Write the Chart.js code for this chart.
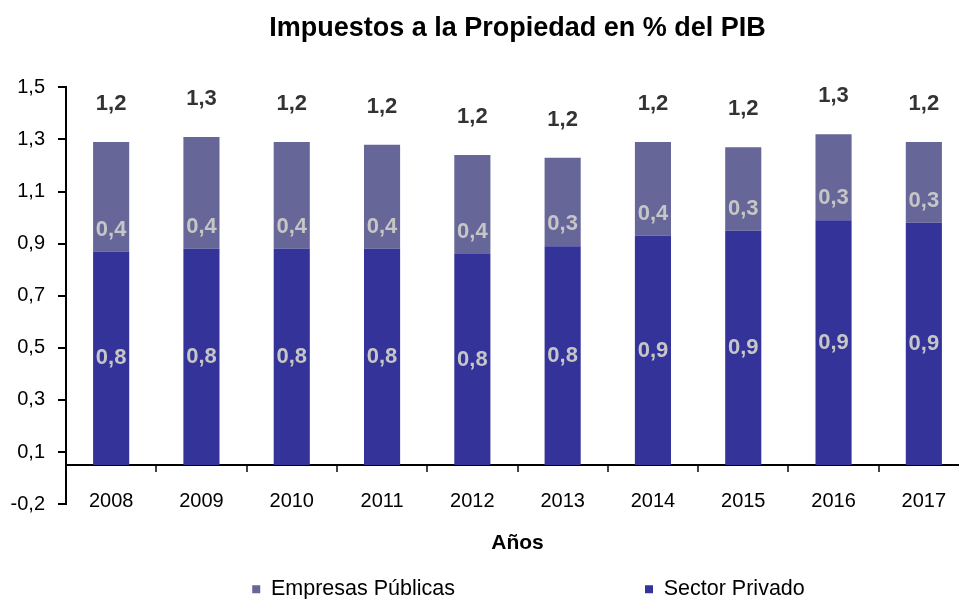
<!DOCTYPE html>
<html lang="es">
<head>
<meta charset="utf-8">
<title>Impuestos a la Propiedad en % del PIB</title>
<script src="https://cdn.jsdelivr.net/npm/chart.js@4.4.0/dist/chart.umd.min.js"></script>
<style>
  html, body { margin: 0; padding: 0; background: #fff; overflow: hidden; }
</style>
</head>
<body>
<!-- the canvas is a bit bigger than the window: the Excel original is cropped at the right and bottom -->
<canvas id="chartPropiedad" width="1057" height="610"></canvas>
<script>
const years = ['2008', '2009', '2010', '2011', '2012', '2013', '2014', '2015', '2016', '2017'];
const sectorPrivado = [0.82, 0.83, 0.83, 0.83, 0.81, 0.84, 0.88, 0.90, 0.94, 0.93];
const empresasPublicas = [0.42, 0.43, 0.41, 0.40, 0.38, 0.34, 0.36, 0.32, 0.33, 0.31];

// y axis of the original starts at -0.15 with a 0.2 step, labels rounded to one decimal
const tickValues = [-0.15, 0.05, 0.25, 0.45, 0.65, 0.85, 1.05, 1.25, 1.45];
const tickLabels = ['-0,2', '0,1', '0,3', '0,5', '0,7', '0,9', '1,1', '1,3', '1,5'];

const legendGap = 190;
const fmt = v => v.toFixed(1).replace('.', ',');

Chart.defaults.font.family = "'Liberation Sans', Arial, sans-serif";

const barLabels = {
    id: 'barLabels',
    afterDatasetsDraw(chart) {
        const { ctx } = chart;
        const priv = chart.getDatasetMeta(0).data;
        const pub = chart.getDatasetMeta(1).data;
        ctx.save();
        ctx.textAlign = 'center';
        ctx.textBaseline = 'middle';
        ctx.font = "bold 22px 'Liberation Sans', Arial, sans-serif";
        priv.forEach((bar, i) => {
            ctx.fillStyle = '#c6c6c6';
            ctx.fillText(fmt(sectorPrivado[i]), bar.x, (bar.y + bar.base) / 2);
            ctx.fillText(fmt(empresasPublicas[i]), pub[i].x, pub[i].base - 22);
            ctx.fillStyle = '#333333';
            ctx.fillText(fmt(sectorPrivado[i] + empresasPublicas[i]), pub[i].x, pub[i].y - 38);
        });
        ctx.restore();
    }
};

const chrt = document.getElementById('chartPropiedad');
new Chart(chrt, {
    type: 'bar',
    data: {
        labels: years,
        datasets: [
            {
                label: 'Sector Privado',
                data: sectorPrivado,
                backgroundColor: '#333399',
                borderWidth: 0
            },
            {
                label: 'Empresas Públicas',
                data: empresasPublicas,
                backgroundColor: '#666699',
                borderWidth: 0
            }
        ]
    },
    options: {
        responsive: false,
        animation: false,
        categoryPercentage: 1,
        barPercentage: 0.4,
        layout: { padding: 0 },
        scales: {
            x: {
                stacked: true,
                position: { y: 0 },   // axis crosses at zero, labels stay low like in Excel
                grid: {
                    drawOnChartArea: false,
                    tickLength: 6,
                    lineWidth: 2,
                    color: '#444'
                },
                border: { color: '#000', width: 2 },
                ticks: { color: '#000', padding: 18, font: { size: 20 } },
                title: {
                    display: true,
                    text: 'Años',
                    color: '#000',
                    font: { size: 21, weight: 'bold' },
                    padding: { top: 0, bottom: 0 }
                }
            },
            y: {
                stacked: true,
                min: -0.15,
                max: 1.45,
                afterBuildTicks: s => {
                    s.ticks = tickValues.map(v => ({ value: v }));
                },
                afterFit: s => { s.width = 66; },
                border: { color: '#000', width: 2 },
                grid: {
                    drawOnChartArea: false,
                    lineWidth: 2,
                    tickLength: 8,
                    color: '#000'
                },
                ticks: {
                    color: '#000',
                    padding: 13,
                    autoSkip: false,
                    font: { size: 20 },
                    callback: (v, i) => tickLabels[i]
                }
            },
            // empty axis on the right, only to push the plot edge past the window
            yPad: {
                type: 'linear',
                position: 'right',
                grid: { display: false },
                border: { display: false },
                ticks: { display: false },
                afterFit: s => { s.width = 88; }
            }
        },
        plugins: {
            title: {
                display: true,
                text: 'Impuestos a la Propiedad en % del PIB',
                fullSize: false,
                color: '#000',
                font: { size: 27, weight: 'bold' },
                padding: { top: 12, bottom: 43 }
            },
            legend: {
                position: 'bottom',
                reverse: true,
                // empty title with negative padding: keeps the wide item gap from eating the plot height
                title: { display: true, text: '', padding: { top: 60 - legendGap, bottom: 0 } },
                labels: {
                    boxWidth: 8,
                    boxHeight: 8,
                    padding: legendGap,
                    color: '#000',
                    font: { size: 21.5 }
                }
            },
            tooltip: { enabled: false }
        }
    },
    plugins: [barLabels]
});
</script>
</body>
</html>
